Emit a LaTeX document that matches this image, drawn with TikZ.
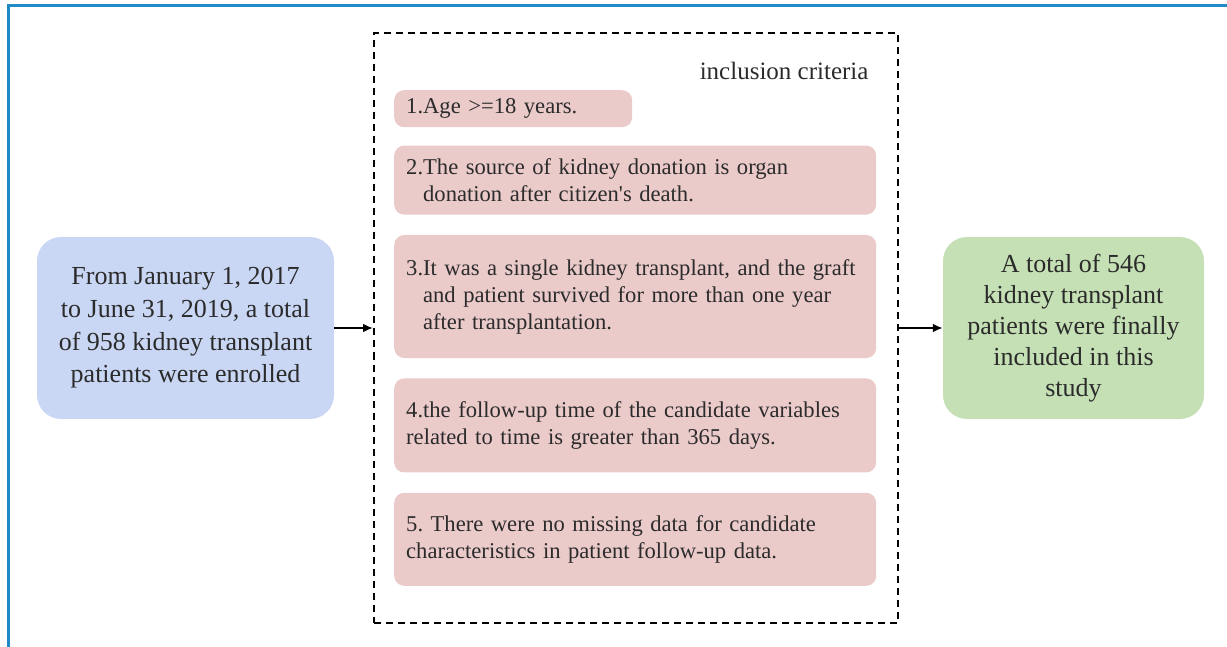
\documentclass[tikz,border=0pt]{standalone}
\usepackage{fontspec}
\setmainfont{Liberation Serif}
\usetikzlibrary{shapes,arrows.meta,positioning}

\definecolor{frameblue}{HTML}{1F8AC6}
\definecolor{startblue}{HTML}{C9D7F4}
\definecolor{endgreen}{HTML}{C5E0B5}
\definecolor{critpink}{HTML}{EBCACA}
\definecolor{textgray}{HTML}{2B2B2B}

\begin{document}
\frenchspacing
\begin{tikzpicture}[x=1pt,y=-1pt,node distance=20pt,>={Latex[length=10pt,width=9pt]},
  bigbox/.style={rounded corners=24pt,text=textgray,align=center,inner sep=0pt,
    minimum height=182pt},
  critbox/.style={fill=critpink,rounded corners=10pt,text=textgray,align=left,
    inner xsep=12pt,inner ysep=0pt,text width=458pt,anchor=north west,
    font=\fontsize{22.6}{27}\selectfont},
  link/.style={->,line width=2pt}]
  \useasboundingbox (0,0) rectangle (1227,647);
  \draw[frameblue, line width=3pt] (8,647) -- (8,6) -- (1227,6);

  \node (crit) [draw,dash pattern=on 7pt off 5pt,line width=2pt,minimum width=524pt,
    minimum height=589pt,inner sep=0pt] at (636,328) {};
  \node (critlabel) [anchor=base east,text=textgray,font=\fontsize{25}{30}\selectfont]
    at (872,80) {inclusion criteria};

  \node (c1) [critbox,text width=214pt,minimum height=37pt] at (394,90) {1.Age >=18 years.};
  \node (c2) [critbox,minimum height=69pt,below right=18pt and 0pt of c1.south west]
    {2.The source of kidney donation is organ\\\hphantom{2.}donation after citizen\textquotesingle s death.};
  \node (c3) [critbox,minimum height=123pt,below right=20pt and 0pt of c2.south west]
    {3.It was a single kidney transplant, and the graft\\\hphantom{3.}and patient survived for more than one year\\\hphantom{3.}after transplantation.};
  \node (c4) [critbox,minimum height=94pt,below right=20pt and 0pt of c3.south west]
    {4.the follow-up time of the candidate variables\\related to time is greater than 365 days.};
  \node (c5) [critbox,minimum height=93pt,below right=20pt and 0pt of c4.south west]
    {5. There were no missing data for candidate\\characteristics in patient follow-up data.};

  \node (start) [bigbox,fill=startblue,minimum width=297pt,
    font=\fontsize{26}{32.7}\selectfont] at (185.5,328)
    {From January 1, 2017\\to June 31, 2019, a total\\of 958 kidney transplant\\patients were enrolled};
  \node (final) [bigbox,fill=endgreen,minimum width=261pt,
    font=\fontsize{26}{31}\selectfont] at (1073.5,328)
    {A total of 546\\kidney transplant\\patients were finally\\included in this\\study};

  \draw[link] (start) -- (crit);
  \draw[link] (crit) -- (final);
\end{tikzpicture}
\end{document}
